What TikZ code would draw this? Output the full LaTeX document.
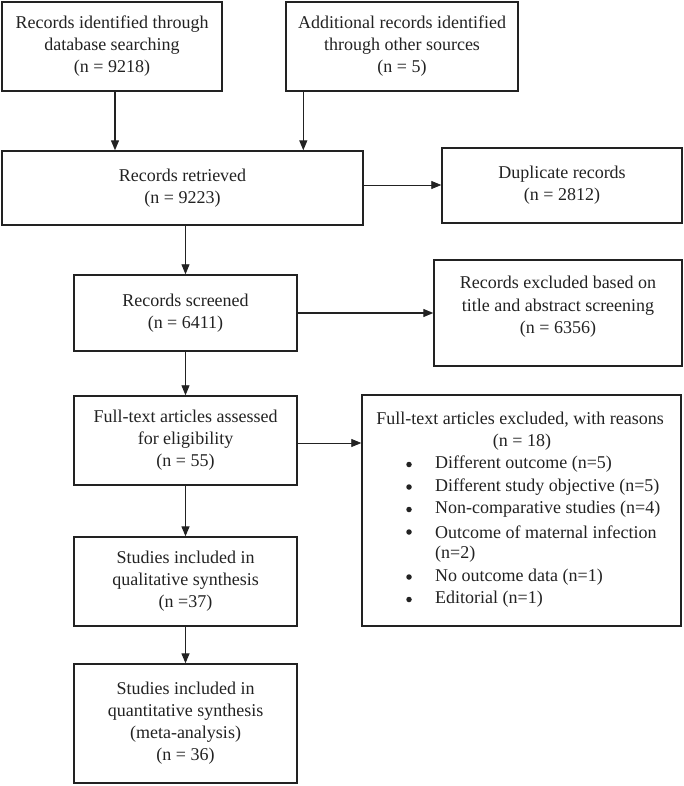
\documentclass[tikz,border=0pt]{standalone}
\usepackage{fontspec}
\setmainfont{Liberation Serif}
\usetikzlibrary{arrows.meta}
\definecolor{ink}{HTML}{222222}
\begin{document}
\begin{tikzpicture}[x=1pt,y=-1pt,
  every node/.style={text=ink},
  box/.style={draw=ink, line width=1.4pt, inner sep=0pt, align=center, font=\fontsize{18}{22}\selectfont},
  arr/.style={draw=ink, -{Triangle[length=10pt,width=8pt]}, line width=1.3pt},
  thinarr/.style={draw=ink, -{Triangle[length=10pt,width=8pt]}, line width=0.8pt},
  txt/.style={inner sep=0pt, align=center, font=\fontsize{18}{22.5}\selectfont},
  dot/.style={circle, fill=ink, inner sep=0pt, minimum size=5.5pt}]
\useasboundingbox (0,0) rectangle (683,786);
\node[box, minimum width=220pt, minimum height=89pt] (b1) at (112,46.5) {Records identified through\\database searching\\(n = 9218)};
\node[box, minimum width=232pt, minimum height=89pt] (b2) at (402,46.5) {Additional records identified\\through other sources\\(n = 5)};
\node[box, minimum width=361pt, minimum height=74pt] (b3) at (182.5,188) {Records retrieved\\(n = 9223)};
\node[box, minimum width=240pt, minimum height=75pt] (dup) at (562,185.5) {Duplicate records\\(n = 2812)};
\node[box, minimum width=223pt, minimum height=76pt] (scr) at (185.5,313) {Records screened\\(n = 6411)};
\node[box, minimum width=248pt, minimum height=106pt] (exc) at (558,313) {};
\node[txt] (exct) at (558,307) {Records excluded based on\\title and abstract screening\\(n = 6356)};
\node[box, minimum width=223pt, minimum height=89pt] (full) at (185.5,440.5) {Full-text articles assessed\\for eligibility\\(n = 55)};
\node[box, minimum width=319pt, minimum height=231pt] (rea) at (521.5,510.5) {};
\node[box, minimum width=223pt, minimum height=89pt] (qual) at (185.5,581.5) {Studies included in\\qualitative synthesis\\(n =37)};
\node[box, minimum width=223pt, minimum height=119pt] (quant) at (185.5,723.5) {Studies included in\\quantitative synthesis\\(meta-analysis)\\(n = 36)};
% reasons text
\node[txt] (rt) at (520,420) {Full-text articles excluded, with reasons};
\node[txt] (rn) at (522,442) {(n = 18)};
\node[dot] (d1) at (409,464.5) {};
\node[dot] (d2) at (409,487) {};
\node[dot] (d3) at (409,509.5) {};
\node[dot] (d4) at (409,532) {};
\node[dot] (d5) at (409,577) {};
\node[dot] (d6) at (409,599.5) {};
\node[txt, anchor=west] (i1) at (435,464.5) {Different outcome (n=5)};
\node[txt, anchor=west] (i2) at (435,487) {Different study objective (n=5)};
\node[txt, anchor=west] (i3) at (435,509.5) {Non-comparative studies (n=4)};
\node[txt, anchor=west] (i4) at (435,532) {Outcome of maternal infection};
\node[txt, anchor=west] (i4b) at (435,554.5) {(n=2)};
\node[txt, anchor=west] (i5) at (435,577) {No outcome data (n=1)};
\node[txt, anchor=west] (i6) at (435,599.5) {Editorial (n=1)};
% connectors
\draw[arr] ([xshift=3pt]b1.south) -- ([xshift=3pt]b1.south |- b3.north);
\draw[arr] ([xshift=18pt]b2.south west) -- ([xshift=18pt]b2.south west |- b3.north);
\draw[thinarr] ([yshift=3pt]b3.east) -- ([yshift=3pt]b3.east -| dup.west);
\draw[thinarr] (scr.north |- b3.south) -- (scr.north);
\draw[arr] (scr.east) -- (scr.east -| exc.west);
\draw[thinarr] (scr.south) -- (full.north);
\draw[thinarr] ([yshift=-2.5pt]full.east) -- ([yshift=-2.5pt]full.east -| rea.west);
\draw[arr] (full.south) -- (qual.north);
\draw[arr] (qual.south) -- (quant.north);
\end{tikzpicture}
\end{document}
